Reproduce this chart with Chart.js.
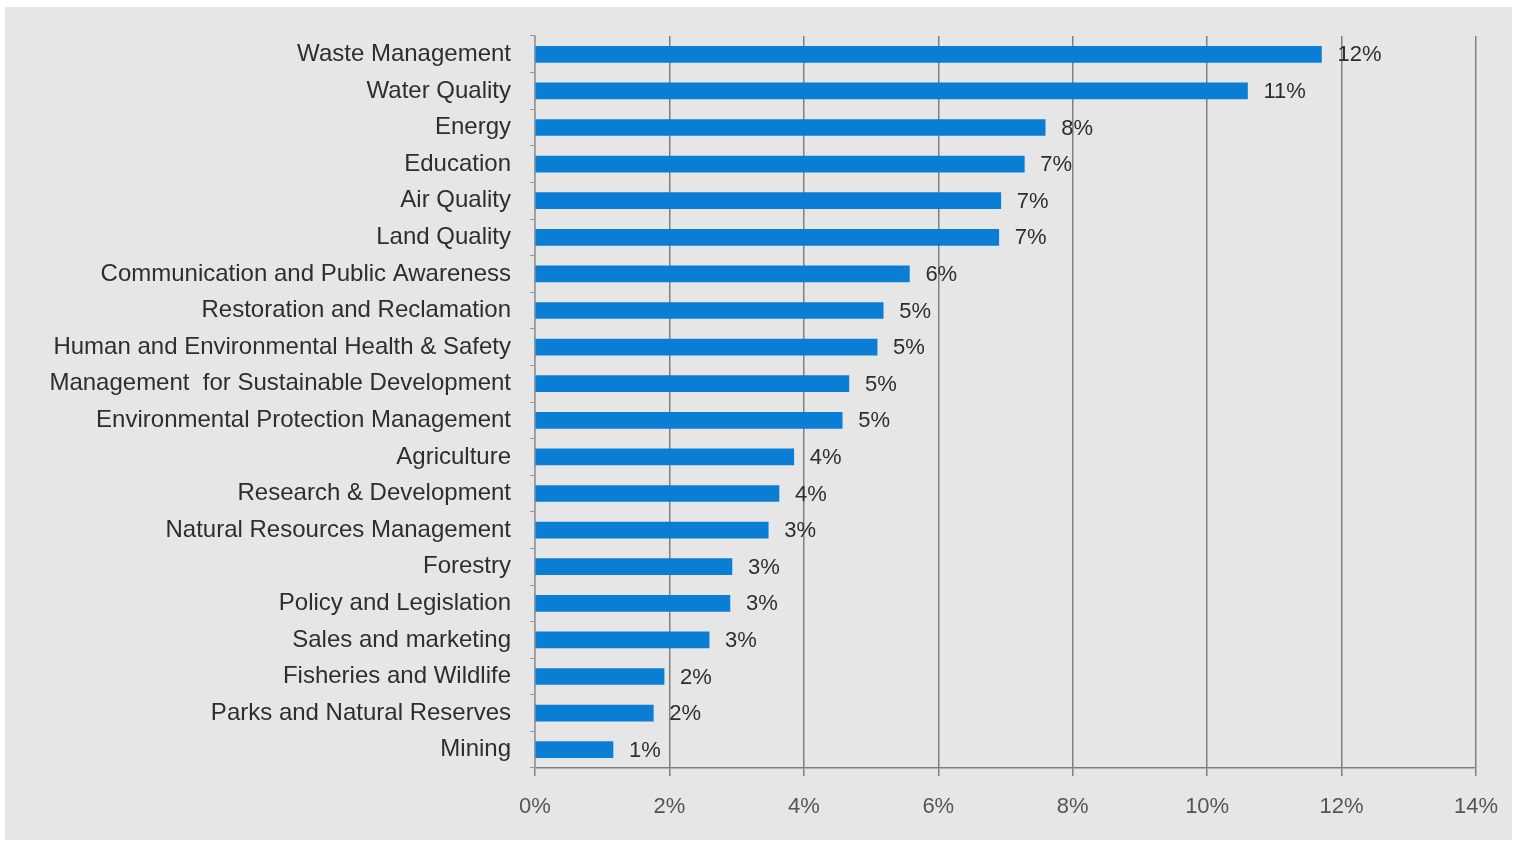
<!DOCTYPE html>
<html>
<head>
<meta charset="utf-8">
<script src="https://cdn.jsdelivr.net/npm/chart.js@4.4.1/dist/chart.umd.min.js"></script>
<style>
  html, body { margin: 0; padding: 0; background: #ffffff; }
  #wrap { position: absolute; left: 5px; top: 7px; width: 1507px; height: 833px; background: #e6e6e6; }
</style>
</head>
<body>
<div id="wrap"><canvas id="chart" width="1507" height="833"></canvas></div>
<script>
  // categories, top to bottom
  const categories = [
    'Waste Management', 'Water Quality', 'Energy', 'Education', 'Air Quality',
    'Land Quality', 'Communication and Public Awareness', 'Restoration and Reclamation',
    'Human and Environmental Health & Safety', 'Management  for Sustainable Development',
    'Environmental Protection Management', 'Agriculture', 'Research & Development',
    'Natural Resources Management', 'Forestry', 'Policy and Legislation',
    'Sales and marketing', 'Fisheries and Wildlife', 'Parks and Natural Reserves', 'Mining'
  ];
  // share in percent
  const shares = [11.7, 10.6, 7.59, 7.28, 6.93, 6.9, 5.57, 5.18, 5.09, 4.67,
                  4.57, 3.85, 3.63, 3.47, 2.93, 2.9, 2.59, 1.92, 1.76, 1.16];
  const xTicks = [0, 2, 4, 6, 8, 10, 12, 14];

  // dessine les valeurs au bout des barres
  const barLabels = {
    id: 'barLabels',
    afterDatasetsDraw(chart) {
      const ctx = chart.ctx;
      const meta = chart.getDatasetMeta(0);
      ctx.save();
      ctx.font = '22px "Liberation Sans", Arial, sans-serif';
      ctx.fillStyle = '#2e2e2e';
      ctx.textAlign = 'left';
      ctx.textBaseline = 'middle';
      meta.data.forEach((bar, i) => {
        ctx.fillText(Math.round(shares[i]) + '%', bar.x + 16, bar.y + 1);
      });
      ctx.restore();
    }
  };

  new Chart(document.getElementById('chart'), {
    type: 'bar',
    data: {
      labels: categories,
      datasets: [{
        data: shares,
        backgroundColor: '#0a7dd5',
        barThickness: 16
      }]
    },
    options: {
      indexAxis: 'y',
      responsive: false,
      animation: false,
      layout: { padding: { top: 29, right: 36, left: 0, bottom: 0 } },
      plugins: { legend: { display: false }, tooltip: { enabled: false } },
      scales: {
        x: {
          min: 0, max: 14,
          afterBuildTicks(scale) { scale.ticks = xTicks.map(v => ({ value: v })); },
          afterFit(scale) {
            scale.height = 72;
            scale.paddingLeft = 0;
            scale.paddingRight = 0;
          },
          grid: { color: '#808080', lineWidth: 1.5, tickLength: 8, drawTicks: true },
          border: { display: true, color: '#808080', width: 1.5 },
          ticks: {
            padding: 18,
            color: '#555555',
            font: { family: '"Liberation Sans", Arial, sans-serif', size: 22 },
            callback: v => v + '%'
          }
        },
        y: {
          afterFit(scale) {
            scale.width = 530;
            scale.paddingTop = 0;
            scale.paddingBottom = 0;
          },
          grid: { drawOnChartArea: false, drawTicks: true, tickLength: 5, color: '#999999', offset: true },
          border: { display: true, color: '#999999', width: 1.5 },
          ticks: {
            padding: 19,
            color: '#2e2e2e',
            autoSkip: false,
            font: { family: '"Liberation Sans", Arial, sans-serif', size: 24 }
          }
        }
      }
    },
    plugins: [barLabels]
  });
</script>
</body>
</html>
